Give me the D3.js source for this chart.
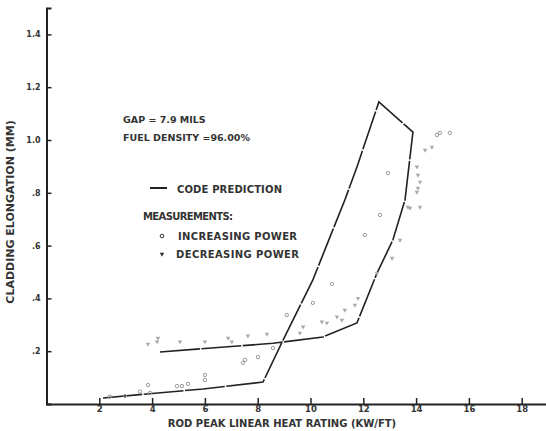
<!DOCTYPE html>
<html lang="en">
<head>
<meta charset="utf-8">
<title>Cladding elongation</title>
<script src="https://d3js.org/d3.v7.min.js"></script>
<style>
  body { margin: 0; background: #fff; }
  text { font-family: "DejaVu Sans", sans-serif; font-weight: bold; fill: #333; }
</style>
</head>
<body>
<svg id="chart" width="546" height="431"></svg>
<script>
// code prediction curve (kw/ft, mm)
var predX = [4.3, 8.58, 10.47, 11.76, 12.52, 13.12, 13.58, 13.88, 12.59, 11.76, 11.3, 10.74, 10.09, 8.96, 8.2, 5.93, 2.14];
var predY = [0.197, 0.23, 0.254, 0.307, 0.496, 0.621, 0.773, 1.03, 1.144, 0.898, 0.773, 0.633, 0.47, 0.242, 0.083, 0.057, 0.023];

// measurements, increasing power
var incX = [2.4, 2.97, 3.54, 3.85, 3.92, 4.94, 5.13, 5.36, 6.0, 6.0, 7.44, 7.52, 8.01, 8.58, 9.1, 10.09, 10.81, 12.06, 12.63, 12.93, 14.79, 14.9, 15.28];
var incY = [0.028, 0.03, 0.047, 0.072, 0.042, 0.068, 0.068, 0.076, 0.11, 0.091, 0.156, 0.167, 0.178, 0.212, 0.337, 0.383, 0.455, 0.64, 0.716, 0.875, 1.019, 1.027, 1.027];

// measurements, decreasing power
var decX = [3.84, 4.19, 4.22, 5.06, 6.0, 6.88, 7.02, 7.63, 8.35, 9.6, 9.72, 10.43, 10.62, 11.0, 11.19, 11.3, 11.68, 11.8, 12.52, 13.09, 13.39, 13.69, 13.77, 14.15, 14.03, 14.07, 14.15, 14.07, 14.03, 14.34, 14.6];
var decY = [0.227, 0.236, 0.25, 0.236, 0.236, 0.25, 0.236, 0.258, 0.265, 0.269, 0.292, 0.311, 0.307, 0.33, 0.318, 0.356, 0.375, 0.40, 0.496, 0.553, 0.621, 0.746, 0.742, 0.746, 0.803, 0.818, 0.841, 0.867, 0.898, 0.962, 0.973];

var xTicks = [2, 4, 6, 8, 10, 12, 14, 16, 18];
var yTicks = [0.2, 0.4, 0.6, 0.8, 1.0, 1.2, 1.4];
var yTickLabels = [".2", ".4", ".6", ".8", "1.0", "1.2", "1.4"];

var svg = d3.select("#chart");

var x = d3.scaleLinear().domain([0, 19]).range([46.5, 46.5 + 19 * 26.4]);
var y = d3.scaleLinear().domain([0, 1.5]).range([404, 8]);

// axes
var xAxis = svg.append("g")
  .attr("transform", "translate(0,404)")
  .call(d3.axisBottom(x).tickValues(xTicks).tickSize(-6).tickPadding(2).tickFormat(d3.format("d")));
xAxis.select(".domain").attr("stroke", "#222").attr("stroke-width", 2);
xAxis.selectAll(".tick line").attr("stroke", "#222").attr("stroke-width", 1.5);
xAxis.selectAll(".tick text").style("font-size", "8.5px").attr("fill", "#444");

var yAxis = svg.append("g")
  .attr("transform", "translate(46.5,0)")
  .call(d3.axisLeft(y).tickValues(yTicks).tickSize(-5).tickPadding(6)
    .tickFormat(function (d, i) { return yTickLabels[i]; }));
yAxis.select(".domain").attr("stroke", "#222").attr("stroke-width", 2);
yAxis.selectAll(".tick line").attr("stroke", "#222").attr("stroke-width", 1.5);
yAxis.selectAll(".tick text").style("font-size", "8px").attr("fill", "#444");

// axis titles
svg.append("text")
  .attr("x", 282).attr("y", 427)
  .attr("text-anchor", "middle")
  .style("font-size", "10px")
  .text("ROD PEAK LINEAR HEAT RATING (KW/FT)");

svg.append("text")
  .attr("transform", "translate(14,212) rotate(-90)")
  .attr("text-anchor", "middle")
  .style("font-size", "11px")
  .text("CLADDING ELONGATION (MM)");

// prediction line
var pts = predX.map(function (d, i) { return [d, predY[i]]; });
svg.append("path")
  .datum(pts)
  .attr("fill", "none")
  .attr("stroke", "#222")
  .attr("stroke-width", 1.6)
  .attr("stroke-dasharray", "40,1.5")
  .attr("d", d3.line().x(function (d) { return x(d[0]); }).y(function (d) { return y(d[1]); }));

// measurement markers
svg.append("g").selectAll("circle")
  .data(incX)
  .enter().append("circle")
  .attr("cx", function (d) { return x(d); })
  .attr("cy", function (d, i) { return y(incY[i]); })
  .attr("r", 1.7)
  .attr("fill", "none")
  .attr("stroke", "#999")
  .attr("stroke-width", 1);

var tri = d3.symbol().type(d3.symbolTriangle).size(9);
svg.append("g").selectAll("path")
  .data(decX)
  .enter().append("path")
  .attr("d", tri)
  .attr("transform", function (d, i) { return "translate(" + x(d) + "," + y(decY[i]) + ") rotate(180)"; })
  .attr("fill", "#aaa");

// annotations
svg.append("text").attr("x", 123).attr("y", 123).style("font-size", "9.5px").text("GAP = 7.9 MILS");
svg.append("text").attr("x", 123).attr("y", 141).style("font-size", "9.5px").text("FUEL DENSITY =96.00%");

svg.append("line").attr("x1", 150).attr("x2", 167).attr("y1", 188).attr("y2", 188)
  .attr("stroke", "#222").attr("stroke-width", 2);
svg.append("text").attr("x", 177).attr("y", 193).style("font-size", "10px").attr("textLength", 105).text("CODE PREDICTION");
svg.append("text").attr("x", 143).attr("y", 220).style("font-size", "10px").attr("textLength", 90).text("MEASUREMENTS:");

svg.append("circle").attr("cx", 162).attr("cy", 236).attr("r", 1.8)
  .attr("fill", "none").attr("stroke", "#333").attr("stroke-width", 1);
svg.append("text").attr("x", 178).attr("y", 240).style("font-size", "10px").attr("textLength", 119).text("INCREASING POWER");

svg.append("path").attr("d", tri).attr("transform", "translate(162,254) rotate(180)").attr("fill", "#333");
svg.append("text").attr("x", 176).attr("y", 258).style("font-size", "10px").attr("textLength", 123).text("DECREASING POWER");
</script>
</body>
</html>
